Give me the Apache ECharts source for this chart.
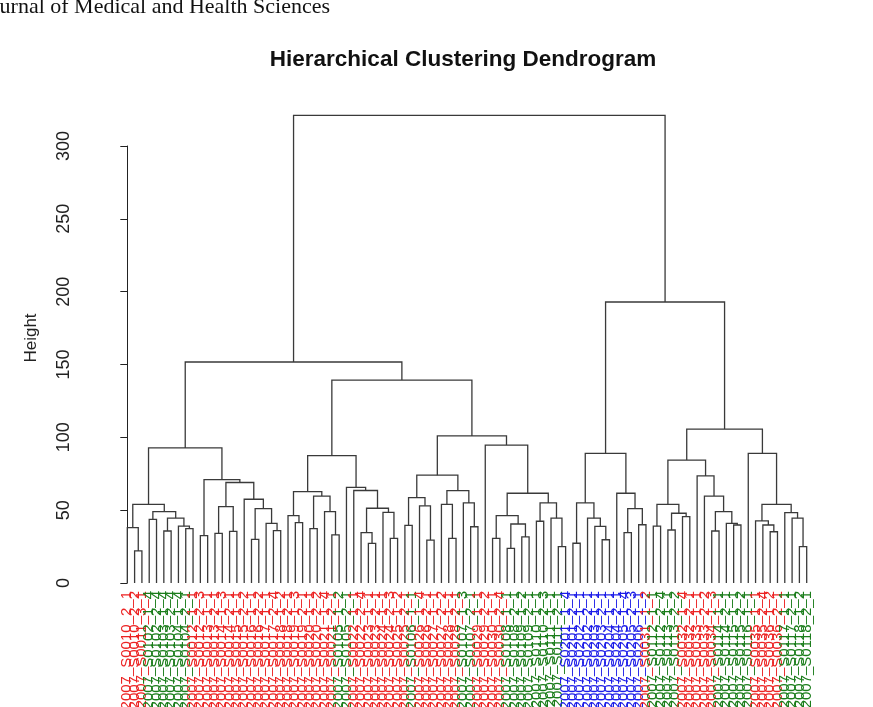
<!DOCTYPE html>
<html><head><meta charset="utf-8">
<script src="https://cdn.jsdelivr.net/npm/echarts@6/dist/echarts.min.js"></script>
<style>html,body{margin:0;padding:0;background:#fff}#c{width:873px;height:707px}</style>
</head><body><div id="c"></div>
<script>
// Merge table (R hclust convention): negative = leaf (1-based, in display order), positive = earlier merge row (1-based)
const mergeLeft = [
  -2, -1, -4, -6, -9, -8, 4, 3, 2,
  -11, -13, -15, 11, -18, -21, -20, 14, -17, 13, 10, 9,
  -24, -23, -26, -29, -28, 24, 23, -34, -33, -37, -36, 30, -32, -31, 28,
  -39, -42, -41, 37, -45, -44, -48, -47, 42, 40, -51, -53, -55, 48, 47, -57, -60, -59, 52, 51, -50, 46, 36, 21,
  -62, -66, -65, -64, 61, -69, -71, 66, -68, 65,
  -73, -75, -77, 72, 71, -81, -84, -83, 76, -80, -79, 75, -89, -88, -87, -93, -92, -91, 85, -86, 82, 70, 60
];
const mergeRight = [
  -3, 1, -5, -7, -10, 5, 6, 7, 8,
  -12, -14, -16, 12, -19, -22, 15, 16, 17, 18, 19, 20,
  -25, 22, -27, -30, 25, 26, 27, -35, 29, -38, 31, 32, 33, 34, 35,
  -40, -43, 38, 39, -46, 41, -49, 43, 44, 45, -52, -54, -56, 49, 50, -58, -61, 53, 54, 55, 56, 57, 58, 59,
  -63, -67, 62, 63, 64, -70, -72, 67, 68, 69,
  -74, -76, -78, 73, 74, -82, -85, 77, 78, 79, 80, 81, -90, 83, 84, -94, 86, 87, 88, 89, 90, 91, 92
];
const mergeHeight = [
  22, 38, 43.7, 35.7, 37.3, 39, 44.6, 49, 54,
  32.5, 34, 35.4, 52.5, 30, 36, 41, 51, 57.5, 69, 71, 92.7,
  41.4, 46.2, 37.3, 33, 49, 59.7, 62.7, 27.2, 34.6, 30.7, 48.5, 51.3, 63.5, 65.6, 87.5,
  39.5, 29.5, 53, 58.6, 30.7, 54, 38.6, 55, 63.4, 74, 30.7, 23.8, 31.6, 40.5, 46.2, 42.4, 25, 44.5, 55, 61.6, 94.7, 101, 139.3, 151.7,
  27.3, 29.7, 38.9, 44.5, 55, 34.6, 40, 51, 61.6, 89,
  39, 36.4, 45.5, 47.9, 54, 35.7, 39.8, 41, 49, 59.7, 73.5, 84.4, 35.2, 39.8, 42.6, 25, 44.5, 48.3, 54, 89, 105.7, 192.9, 321
];
const leafLabels = [
"GSE2007_S0010_2_1","GSE2007_S0010_2_2","GSE2007_S0011_3_1","GSE2007_S0102_1_4","GSE2007_S0102_2_4","GSE2007_S0103_1_4","GSE2007_S0103_2_4","GSE2007_S0104_1_4","GSE2007_S0104_2_1","GSE2007_S0012_1_1",
"GSE2007_S0012_2_3","GSE2007_S0013_1_1","GSE2007_S0013_2_1","GSE2007_S0014_1_3","GSE2007_S0014_2_1","GSE2007_S0015_1_1","GSE2007_S0015_2_2","GSE2007_S0016_1_1","GSE2007_S0016_2_2","GSE2007_S0017_1_1",
"GSE2007_S0017_2_4","GSE2007_S0018_1_2","GSE2007_S0018_2_1","GSE2007_S0019_1_3","GSE2007_S0019_2_1","GSE2007_S0020_1_1","GSE2007_S0020_2_2","GSE2007_S0021_1_4","GSE2007_S0021_2_1","GSE2007_S0105_1_2",
"GSE2007_S0105_2_1","GSE2007_S0022_1_1","GSE2007_S0022_2_4","GSE2007_S0023_1_1","GSE2007_S0023_2_1","GSE2007_S0024_1_1","GSE2007_S0024_2_3","GSE2007_S0025_1_2","GSE2007_S0025_2_1","GSE2007_S0106_1_1",
"GSE2007_S0026_1_4","GSE2007_S0026_2_1","GSE2007_S0027_1_1","GSE2007_S0027_2_2","GSE2007_S0028_1_1","GSE2007_S0028_2_1","GSE2007_S0107_1_3","GSE2007_S0107_2_1","GSE2007_S0029_1_1","GSE2007_S0029_2_2",
"GSE2007_S0030_1_1","GSE2007_S0030_2_4","GSE2007_S0108_1_1","GSE2007_S0108_2_1","GSE2007_S0109_1_2","GSE2007_S0109_2_1","GSE2007_S0110_1_1","GSE2007_S0110_2_3","GSE2007_S0111_1_1","GSE2007_S0111_2_1",
"GSE2007_S0201_1_4","GSE2007_S0201_2_1","GSE2007_S0202_1_1","GSE2007_S0202_2_1","GSE2007_S0203_1_1","GSE2007_S0203_2_1","GSE2007_S0204_1_1","GSE2007_S0204_2_1","GSE2007_S0205_1_4","GSE2007_S0205_2_3",
"GSE2007_S0206_1_1","GSE2007_S0031_1_2","GSE2007_S0112_1_1","GSE2007_S0112_2_4","GSE2007_S0113_1_1","GSE2007_S0113_2_2","GSE2007_S0032_1_4","GSE2007_S0032_2_1","GSE2007_S0033_1_1","GSE2007_S0033_2_2",
"GSE2007_S0034_1_3","GSE2007_S0114_1_1","GSE2007_S0114_2_1","GSE2007_S0115_1_1","GSE2007_S0115_2_2","GSE2007_S0116_1_1","GSE2007_S0035_1_1","GSE2007_S0035_2_4","GSE2007_S0036_1_2","GSE2007_S0036_2_1",
"GSE2007_S0117_1_1","GSE2007_S0117_2_1","GSE2007_S0118_1_2","GSE2007_S0118_2_1"
];
const leafGroup = [
1,1,1,2,2,2,2,2,2,1,
1,1,1,1,1,1,1,1,1,1,
1,1,1,1,1,1,1,1,1,2,
2,1,1,1,1,1,1,1,1,2,
1,1,1,1,1,1,2,2,1,1,
1,1,2,2,2,2,2,2,2,2,
3,3,3,3,3,3,3,3,3,3,
3,1,2,2,2,2,1,1,1,1,
1,2,2,2,2,2,1,1,1,1,
2,2,2,2
];
const groupColors = {1: '#ec2424', 2: '#1b7d1b', 3: '#1c1ce8'};
const yTickMin = 0, yTickMax = 300, yTickStep = 50;

// Build segments from the merge table
const nodeX = [], nodeH = [];
function pos(ref) { return ref < 0 ? [-ref - 1, 0] : [nodeX[ref - 1], nodeH[ref - 1]]; }
const segs = [];
for (let k = 0; k < mergeHeight.length; k++) {
  const [xl, hl] = pos(mergeLeft[k]);
  const [xr, hr] = pos(mergeRight[k]);
  nodeX[k] = (xl + xr) / 2; nodeH[k] = mergeHeight[k];
  segs.push([xl, hl, xr, hr, mergeHeight[k]]);
}

const chart = echarts.init(document.getElementById('c'), null, {renderer: 'canvas'});
chart.setOption({
  animation: false,
  backgroundColor: '#fff',
  title: {
    text: 'Hierarchical Clustering Dendrogram',
    left: 458, top: 43, textAlign: 'center',
    textStyle: {fontSize: 22.5, fontWeight: 'bold', fontFamily: 'Liberation Sans', color: '#111'}
  },
  graphic: [
    {type: 'text', left: -20, top: -4, style: {text: 'Journal of Medical and Health Sciences', font: '22px "Liberation Serif"', fill: '#111'}},
    {type: 'text', x: 31, y: 338, rotation: Math.PI / 2, style: {text: 'Height', font: '17px "Liberation Sans"', fill: '#222', align: 'center', verticalAlign: 'middle'}}
  ],
  grid: {left: 127.3, right: 66.3, top: 146, bottom: 124, containLabel: false, outerBoundsMode: 'none'},
  xAxis: [
    {type: 'value', min: 0, max: leafLabels.length - 1, show: false, position: 'top'},
    {type: 'category', data: leafLabels, boundaryGap: false, position: 'bottom',
     axisLine: {show: false}, axisTick: {show: false}, splitLine: {show: false},
     axisLabel: {interval: 0, rotate: 90, margin: 8, fontSize: 15, fontFamily: 'Liberation Sans',
       color: (v, i) => groupColors[leafGroup[i]]}}
  ],
  yAxis: {
    type: 'value', min: yTickMin, max: yTickMax, interval: yTickStep, position: 'left', offset: 30.3,
    axisLine: {show: true, lineStyle: {color: '#222', width: 1}},
    axisTick: {show: true, length: 7, lineStyle: {color: '#222'}},
    axisLabel: {rotate: 90, margin: 24, fontSize: 18, fontFamily: 'Liberation Sans', color: '#222'},
    splitLine: {show: false}
  },
  series: [{
    type: 'custom', xAxisIndex: 0, yAxisIndex: 0, clip: false, silent: true,
    encode: {x: [0, 2], y: [1, 3, 4]},
    data: segs,
    renderItem: function (params, api) {
      const p1 = api.coord([api.value(0), api.value(1)]);
      const p2 = api.coord([api.value(0), api.value(4)]);
      const p3 = api.coord([api.value(2), api.value(4)]);
      const p4 = api.coord([api.value(2), api.value(3)]);
      return {type: 'polyline', shape: {points: [p1, p2, p3, p4]},
              style: {stroke: '#3a3a3a', lineWidth: 1.3, fill: null}};
    }
  }]
});
</script></body></html>
